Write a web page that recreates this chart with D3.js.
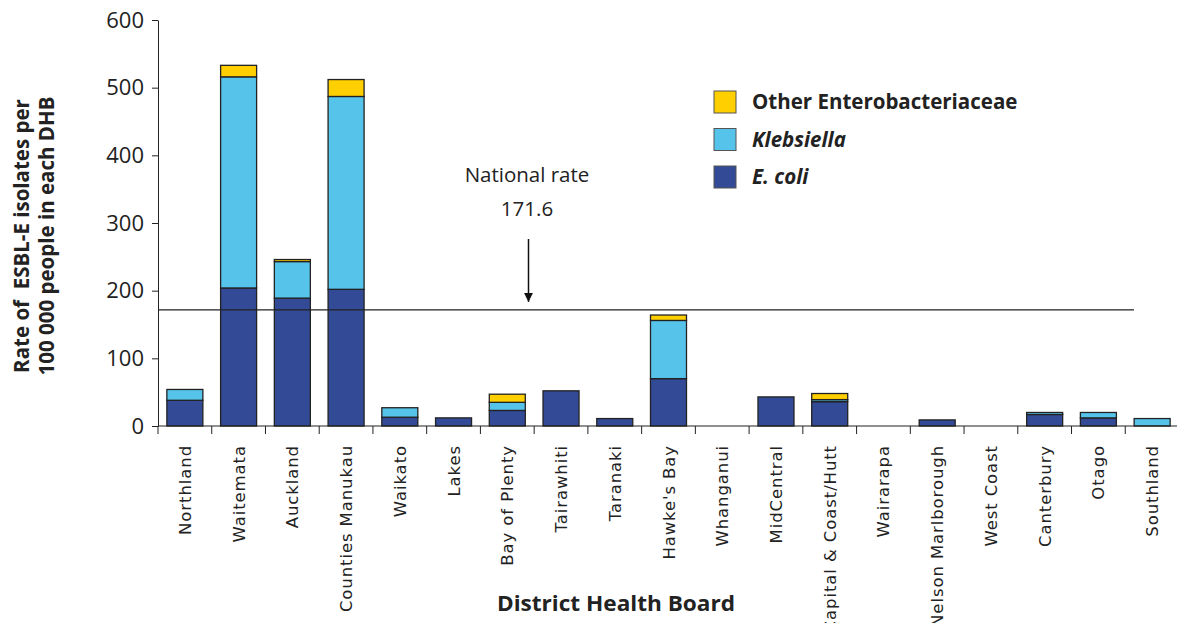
<!DOCTYPE html>
<html>
<head>
<meta charset="utf-8">
<script src="https://cdn.jsdelivr.net/npm/d3@7"></script>
<style>
  body { margin: 0; background: #fff; }
  svg { display: block; }
  .tick text { font-family: "Open Sans", sans-serif; }
</style>
</head>
<body>
<svg id="chart" width="1177" height="623"></svg>
<script>
// District Health Boards, in chart order
var boards = ["Northland", "Waitemata", "Auckland", "Counties Manukau", "Waikato", "Lakes",
        "Bay of Plenty", "Tairawhiti", "Taranaki", "Hawke's Bay", "Whanganui", "MidCentral",
        "Capital & Coast/Hutt", "Wairarapa", "Nelson Marlborough", "West Coast", "Canterbury",
        "Otago", "Southland"]

// rates per 100 000
var ecoli      = [38, 204, 189, 202, 13, 12, 23, 52, 11, 70, 0, 43, 36, 0, 9, 0, 17, 12, 0]
var klebsiella = [16, 312, 54, 285, 14, 0, 12, 0, 0, 86, 0, 0, 3, 0, 0, 0, 3, 8, 11]
var other      = [0, 17, 3, 25, 0, 0, 12, 0, 0, 8, 0, 0, 9, 0, 0, 0, 0, 0, 0]

var nationalRate = 171.6
var yTicks = [0, 100, 200, 300, 400, 500, 600]

var seriesKeys = ["ecoli", "klebsiella", "other"]
var colors = { ecoli: "#334a96", klebsiella: "#56c3eb", other: "#ffcf00" }
var legendItems = [
        { key: "other", label: "Other Enterobacteriaceae", italic: false },
        { key: "klebsiella", label: "Klebsiella", italic: true },
        { key: "ecoli", label: "E. coli", italic: true }
]

;(function () {
        "use strict";

        var rows = boards.map(function (b, i) {
                return { board: b, ecoli: ecoli[i], klebsiella: klebsiella[i], other: other[i] }
        })

        var svg = d3.select("#chart")
        var left = 158, right = 1179, plotTop = 20, bottom = 426

        var x = d3.scaleBand()
                .domain(boards)
                .range([left, right])
                .paddingInner(0.33)
                .paddingOuter(0.165)

        var y = d3.scaleLinear()
                .domain([0, 600])
                .range([bottom, plotTop])

        var stack = d3.stack().keys(seriesKeys)(rows)

        // bars
        svg.append("g")
                .selectAll("g")
                .data(stack)
                .enter().append("g")
                .attr("fill", function (d) { return colors[d.key] })
                .selectAll("rect")
                .data(function (d) { return d.filter(function (s) { return s[1] - s[0] > 0 }) })
                .enter().append("rect")
                .attr("x", function (d) { return x(d.data.board) })
                .attr("width", x.bandwidth())
                .attr("y", function (d) { return y(d[1]) })
                .attr("height", function (d) { return y(d[0]) - y(d[1]) })
                .attr("stroke", "#222")
                .attr("stroke-width", 1.3)

        // y axis
        var yAxis = svg.append("g")
                .attr("transform", "translate(" + left + ",0)")
                .call(d3.axisLeft(y).tickValues(yTicks).tickSize(6).tickPadding(8).tickSizeOuter(0))
        yAxis.selectAll("text").attr("font-size", 22).attr("fill", "#222")
        yAxis.selectAll("line, path").attr("stroke", "#222")

        // x axis with ticks between the bands
        var step = x.step()
        var bounds = d3.range(boards.length + 1).map(function (i) { return left + i * step })
        svg.append("line")
                .attr("x1", left).attr("x2", 1177)
                .attr("y1", bottom).attr("y2", bottom)
                .attr("stroke", "#222").attr("stroke-width", 1.2)
        svg.append("g")
                .selectAll("line")
                .data(bounds)
                .enter().append("line")
                .attr("x1", function (d) { return d }).attr("x2", function (d) { return d })
                .attr("y1", bottom).attr("y2", bottom + 8)
                .attr("stroke", "#222").attr("stroke-width", 1)

        svg.append("g")
                .selectAll("text")
                .data(boards)
                .enter().append("text")
                .attr("transform", function (d) {
                        return "translate(" + (x(d) + x.bandwidth() / 2 + 6) + "," + (bottom + 19) + ") rotate(-90)"
                })
                .attr("text-anchor", "end")
                .attr("font-family", "DejaVu Sans, sans-serif")
                .attr("font-size", 16.5)
                .attr("letter-spacing", 0.9)
                .attr("fill", "#222")
                .text(function (d) { return d })

        // national rate line + arrow
        svg.append("line")
                .attr("x1", left).attr("x2", 1134)
                .attr("y1", y(nationalRate)).attr("y2", y(nationalRate))
                .attr("stroke", "#222").attr("stroke-width", 1.3)

        svg.append("defs").append("marker")
                .attr("id", "arrow")
                .attr("viewBox", "0 0 10 10")
                .attr("refX", 10).attr("refY", 5)
                .attr("markerWidth", 9).attr("markerHeight", 9)
                .attr("markerUnits", "userSpaceOnUse")
                .attr("orient", "auto")
                .append("path")
                .attr("d", "M0,0L10,5L0,10Z")
                .attr("fill", "#111")
        svg.append("line")
                .attr("x1", 528.5).attr("x2", 528.5)
                .attr("y1", 239).attr("y2", y(nationalRate) - 8)
                .attr("stroke", "#111").attr("stroke-width", 1.5)
                .attr("marker-end", "url(#arrow)")

        var note = svg.append("text")
                .attr("text-anchor", "middle")
                .attr("font-family", "Open Sans, sans-serif")
                .attr("font-size", 20.5)
                .attr("fill", "#222")
        note.append("tspan").attr("x", 527).attr("y", 182).text("National rate")
        note.append("tspan").attr("x", 527).attr("y", 216).text(nationalRate.toFixed(1))

        // legend
        var legend = svg.append("g")
                .selectAll("g")
                .data(legendItems)
                .enter().append("g")
                .attr("transform", function (d, i) { return "translate(714," + (91 + i * 37.5) + ")" })
        legend.append("rect")
                .attr("width", 22).attr("height", 22)
                .attr("fill", function (d) { return colors[d.key] })
                .attr("stroke", "#555").attr("stroke-width", 1)
        legend.append("text")
                .attr("x", 38).attr("y", 18)
                .attr("font-family", "Open Sans, sans-serif")
                .attr("font-size", 20.5)
                .attr("font-weight", "bold")
                .attr("font-style", function (d) { return d.italic ? "italic" : "normal" })
                .attr("fill", "#222")
                .text(function (d) { return d.label })

        // axis titles
        var yTitle = svg.append("text")
                .attr("transform", "translate(0,236) rotate(-90)")
                .attr("text-anchor", "middle")
                .attr("font-family", "Open Sans, sans-serif")
                .attr("font-size", 20.5)
                .attr("font-weight", "bold")
                .attr("fill", "#222")
        yTitle.append("tspan").attr("x", 0).attr("y", 29).attr("xml:space", "preserve").text("Rate of  ESBL-E isolates per")
        yTitle.append("tspan").attr("x", 0).attr("y", 54).text("100 000 people in each DHB")

        svg.append("text")
                .attr("x", 497).attr("y", 611)
                .attr("textLength", 238)
                .attr("lengthAdjust", "spacingAndGlyphs")
                .attr("font-family", "Open Sans, sans-serif")
                .attr("font-size", 22)
                .attr("font-weight", "bold")
                .attr("fill", "#222")
                .text("District Health Board")
})()
</script>
</body>
</html>
